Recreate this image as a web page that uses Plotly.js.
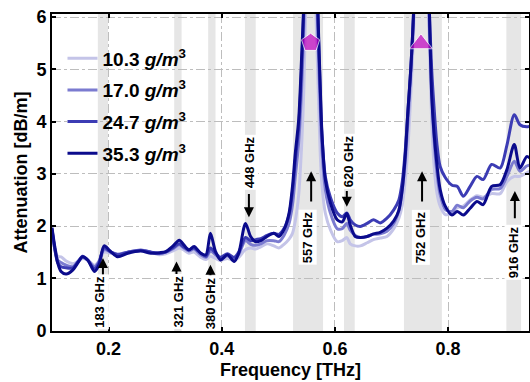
<!DOCTYPE html>
<html>
<head>
<meta charset="utf-8">
<script src="https://cdn.plot.ly/plotly-3.0.1.min.js"></script>
<style>html,body{margin:0;padding:0;background:#fff;}#chart{width:530px;height:382px;}</style>
</head>
<body>
<div id="chart"></div>
<script>
// Frequency grid [THz]
const freq = [0.100,0.105,0.110,0.116,0.125,0.137,0.146,0.154,0.163,0.175,0.183,0.192,0.204,0.216,0.234,0.257,0.275,0.290,0.301,0.313,0.325,0.333,0.342,0.351,0.363,0.372,0.380,0.389,0.398,0.410,0.422,0.430,0.442,0.451,0.460,0.469,0.480,0.492,0.501,0.510,0.519,0.525,0.530,0.536,0.541,0.545,0.550,0.557,0.564,0.570,0.574,0.577,0.583,0.592,0.604,0.613,0.621,0.627,0.636,0.645,0.657,0.668,0.680,0.692,0.704,0.713,0.719,0.724,0.729,0.734,0.739,0.745,0.753,0.761,0.767,0.771,0.775,0.780,0.786,0.795,0.807,0.816,0.827,0.839,0.851,0.862,0.877,0.892,0.904,0.917,0.927,0.939,0.945];

// Attenuation [dB/m] per humidity
const att103 = [1.90,1.60,1.42,1.41,1.33,1.28,1.32,1.38,1.35,1.25,1.33,1.50,1.48,1.46,1.50,1.54,1.50,1.45,1.47,1.52,1.58,1.54,1.48,1.50,1.40,1.36,1.42,1.38,1.34,1.38,1.34,1.40,1.55,1.58,1.56,1.60,1.66,1.62,1.58,1.65,1.75,1.86,2.10,2.60,3.50,4.60,7.0,10.0,7.0,4.8,3.4,2.8,2.25,1.93,1.70,1.72,1.78,1.66,1.62,1.62,1.68,1.74,1.77,1.80,1.95,2.15,2.40,2.85,3.5,4.5,5.7,8.0,11.0,8.0,5.5,4.0,3.2,2.65,2.38,2.22,2.25,2.35,2.38,2.50,2.58,2.55,2.62,2.62,2.85,2.95,2.95,3.02,3.05];
const att170 = [1.92,1.55,1.35,1.30,1.25,1.22,1.32,1.40,1.35,1.22,1.32,1.55,1.50,1.46,1.50,1.54,1.50,1.47,1.50,1.56,1.64,1.58,1.52,1.56,1.45,1.40,1.52,1.45,1.38,1.43,1.38,1.46,1.72,1.65,1.63,1.66,1.72,1.72,1.70,1.82,2.05,2.40,2.95,3.6,4.6,5.8,8.0,11.0,8.0,5.6,4.3,3.5,2.70,2.25,1.95,1.95,2.05,1.92,1.82,1.78,1.80,1.84,1.85,1.90,2.05,2.30,2.70,3.2,4.0,4.9,6.0,8.5,12.0,8.5,5.8,4.6,3.7,3.05,2.60,2.32,2.28,2.40,2.35,2.48,2.55,2.52,2.70,2.72,2.95,3.24,3.05,3.15,3.17];
const att247 = [1.95,1.55,1.30,1.22,1.20,1.20,1.32,1.42,1.35,1.18,1.30,1.58,1.50,1.45,1.50,1.53,1.50,1.48,1.50,1.58,1.66,1.60,1.55,1.58,1.48,1.42,1.58,1.48,1.40,1.47,1.40,1.50,1.78,1.72,1.74,1.76,1.82,1.86,1.84,1.95,2.22,2.65,3.25,3.9,5.0,6.2,9.0,13.0,9.0,6.0,4.6,3.75,2.95,2.55,2.25,2.18,2.25,2.12,2.02,1.99,2.05,2.12,2.06,2.15,2.31,2.50,2.85,3.40,4.2,5.0,6.1,9.0,13.0,9.0,6.1,5.0,4.3,3.6,3.14,2.93,2.78,2.76,2.57,2.76,2.95,2.89,3.18,3.11,3.55,4.13,3.94,3.90,3.91];
const att353 = [1.97,1.60,1.30,1.13,1.08,1.16,1.30,1.41,1.35,1.13,1.25,1.62,1.51,1.41,1.48,1.52,1.48,1.49,1.51,1.61,1.73,1.64,1.54,1.61,1.48,1.45,1.86,1.51,1.35,1.45,1.32,1.48,2.05,1.80,1.70,1.72,1.80,1.86,1.80,1.93,2.25,2.76,3.40,4.04,5.2,6.3,9.5,14.0,9.5,6.1,4.7,3.8,2.89,2.44,2.12,2.08,2.24,2.02,1.80,1.78,1.80,1.85,1.88,1.96,2.10,2.30,2.70,3.30,4.2,5.0,6.1,9.0,14.0,9.0,6.1,4.5,3.8,3.21,2.70,2.38,2.21,2.28,2.21,2.34,2.47,2.41,2.76,2.79,3.08,3.56,3.11,3.33,3.30];

const seriesNames = ['10.3 <i>g/m</i><sup>3</sup>','17.0 <i>g/m</i><sup>3</sup>','24.7 <i>g/m</i><sup>3</sup>','35.3 <i>g/m</i><sup>3</sup>'];
const seriesColors = ['#c4c4e8','#7b7bd0','#3c3cb4','#0b0b8c'];
const seriesData = [att103, att170, att247, att353];

// Water absorption lines and shaded band edges [THz]
const lineLabels = ['183 GHz','321 GHz','380 GHz','448 GHz','557 GHz','620 GHz','752 GHz','916 GHz'];
const bandStart = [0.181,0.316,0.376,0.441,0.526,0.616,0.722,0.903];
const bandEnd   = [0.199,0.329,0.389,0.460,0.579,0.635,0.789,0.929];
// label placement (data coords): text center, arrow tip, arrow tail
const labelX = [0.185,0.324,0.380,0.449,0.551,0.624,0.751,0.915];
const labelY = [0.55,0.55,0.53,3.23,1.79,3.23,1.79,1.50];
const arrowX = [0.190,0.320,0.380,0.448,0.558,0.621,0.754,0.918];
const arrowTip  = [1.39,1.32,1.26,2.17,3.05,2.37,3.05,2.67];
const arrowTail = [1.03,1.03,1.03,2.64,2.44,2.70,2.44,2.12];

// Peak markers
const markX = [0.557,0.752];
const markY = [5.51,5.49];
const markSym = ['pentagon','triangle-up'];

const FONT = 'Liberation Sans, Arial, sans-serif';

const traces = seriesData.map((d,i)=>({
  x: freq, y: d, type:'scatter', mode:'lines', name: seriesNames[i], legendgroup:'g'+i,
  line:{color: seriesColors[i], width:3, shape:'spline', smoothing:0.8}
}));
traces.push({x: markX, y: markY, type:'scatter', mode:'markers', showlegend:false,
  marker:{symbol: markSym, size:[19,20], color:'#c000c0'}});

const shapes = bandStart.map((s,i)=>({type:'rect', xref:'x', yref:'paper', x0:s, x1:bandEnd[i], y0:0, y1:1,
  fillcolor:'#e6e6e6', line:{width:0}, layer:'below'}));

const annotations = [];
lineLabels.forEach((t,i)=>{
  annotations.push({x: arrowX[i], y: arrowTip[i], ax: arrowX[i], ay: arrowTail[i], axref:'x', ayref:'y',
    xref:'x', yref:'y', text:'', showarrow:true, arrowhead:2, arrowsize:1, arrowwidth:2, arrowcolor:'#000'});
  annotations.push({x: labelX[i], y: labelY[i], xref:'x', yref:'y', text: t, showarrow:false, textangle:-90,
    font:{family: FONT, size:13, color:'#000', weight:'bold'}, bgcolor:'#ffffff', borderpad:1});
});

const layout = {
  width:530, height:382,
  margin:{l:52, r:1, t:14, b:51},
  paper_bgcolor:'#fff', plot_bgcolor:'#fff',
  font:{family: FONT, color:'#000'},
  showlegend:true,
  legend:{x:0.022, y:0.92, xanchor:'left', yanchor:'top', bgcolor:'rgba(0,0,0,0)', tracegroupgap:4,
    font:{family: FONT, size:19, color:'#000', weight:'bold'}},
  xaxis:{range:[0.1,0.943], tickvals:[0.2,0.4,0.6,0.8], ticktext:['0.2','0.4','0.6','0.8'],
    showline:true, linecolor:'#000', linewidth:2, mirror:'ticks', ticks:'inside', ticklen:4, tickwidth:2, tickcolor:'#000',
    showgrid:true, gridcolor:'#bdbdbd', griddash:'dashdot', gridwidth:1, zeroline:false,
    tickfont:{family: FONT, size:18, weight:'bold'},
    title:{text:'Frequency [THz]', font:{family: FONT, size:18, weight:'bold'}, standoff:6}},
  yaxis:{range:[-0.01,6.06], tickvals:[0,1,2,3,4,5,6],
    showline:true, linecolor:'#000', linewidth:2, mirror:'ticks', ticks:'inside', ticklen:4, tickwidth:2, tickcolor:'#000',
    showgrid:true, gridcolor:'#bdbdbd', griddash:'dashdot', gridwidth:1, zeroline:false,
    tickfont:{family: FONT, size:18, weight:'bold'},
    title:{text:'Attenuation [dB/m]', font:{family: FONT, size:18, weight:'bold'}, standoff:4}},
  shapes: shapes,
  annotations: annotations
};

Plotly.newPlot('chart', traces, layout, {displayModeBar:false, staticPlot:true});
</script>
</body>
</html>
